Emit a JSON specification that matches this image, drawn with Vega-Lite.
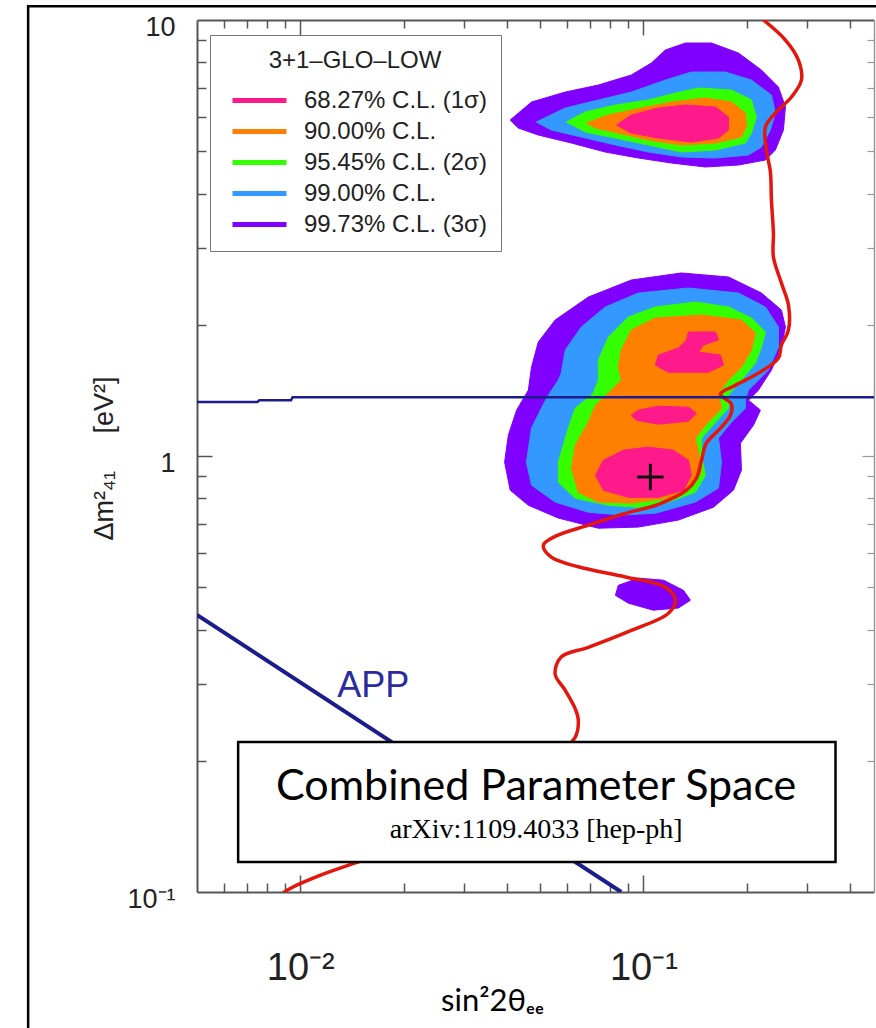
{
  "$schema": "https://vega.github.io/schema/vega-lite/v6.json",
  "width": 677,
  "height": 872,
  "autosize": "none",
  "padding": {"left": 197, "top": 20, "right": 2, "bottom": 136},
  "background": "white",
  "config": {"view": {"stroke": null}, "axis": {"grid": false}},
  "resolve": {"axis": {"x": "independent", "y": "independent"}},
  "datasets": {
    "contours": [
      {"cl":"99.73% C.L. (3σ)","p":"U","i":1,"x":0.0409,"y":5.897},
      {"cl":"99.73% C.L. (3σ)","p":"U","i":2,"x":0.0472,"y":6.485},
      {"cl":"99.73% C.L. (3σ)","p":"U","i":3,"x":0.0592,"y":6.835},
      {"cl":"99.73% C.L. (3σ)","p":"U","i":4,"x":0.0739,"y":7.093},
      {"cl":"99.73% C.L. (3σ)","p":"U","i":5,"x":0.0922,"y":7.478},
      {"cl":"99.73% C.L. (3σ)","p":"U","i":6,"x":0.1055,"y":7.968},
      {"cl":"99.73% C.L. (3σ)","p":"U","i":7,"x":0.1159,"y":8.535},
      {"cl":"99.73% C.L. (3σ)","p":"U","i":8,"x":0.1326,"y":8.856},
      {"cl":"99.73% C.L. (3σ)","p":"U","i":9,"x":0.1579,"y":8.856},
      {"cl":"99.73% C.L. (3σ)","p":"U","i":10,"x":0.1892,"y":8.401},
      {"cl":"99.73% C.L. (3σ)","p":"U","i":11,"x":0.2208,"y":7.678},
      {"cl":"99.73% C.L. (3σ)","p":"U","i":12,"x":0.2475,"y":7.018},
      {"cl":"99.73% C.L. (3σ)","p":"U","i":13,"x":0.2594,"y":6.316},
      {"cl":"99.73% C.L. (3σ)","p":"U","i":14,"x":0.2559,"y":5.593},
      {"cl":"99.73% C.L. (3σ)","p":"U","i":15,"x":0.2425,"y":5.032},
      {"cl":"99.73% C.L. (3σ)","p":"U","i":16,"x":0.2268,"y":4.773},
      {"cl":"99.73% C.L. (3σ)","p":"U","i":17,"x":0.1892,"y":4.649},
      {"cl":"99.73% C.L. (3σ)","p":"U","i":18,"x":0.1516,"y":4.601},
      {"cl":"99.73% C.L. (3σ)","p":"U","i":19,"x":0.1207,"y":4.698},
      {"cl":"99.73% C.L. (3σ)","p":"U","i":20,"x":0.0967,"y":4.824},
      {"cl":"99.73% C.L. (3σ)","p":"U","i":21,"x":0.0774,"y":4.979},
      {"cl":"99.73% C.L. (3σ)","p":"U","i":22,"x":0.0617,"y":5.222},
      {"cl":"99.73% C.L. (3σ)","p":"U","i":23,"x":0.0494,"y":5.447},
      {"cl":"99.73% C.L. (3σ)","p":"U","i":24,"x":0.0432,"y":5.652},
      {"cl":"99.73% C.L. (3σ)","p":"L","i":1,"x":0.1291,"y":2.629},
      {"cl":"99.73% C.L. (3σ)","p":"L","i":2,"x":0.1770,"y":2.574},
      {"cl":"99.73% C.L. (3σ)","p":"L","i":3,"x":0.2208,"y":2.365},
      {"cl":"99.73% C.L. (3σ)","p":"L","i":4,"x":0.2525,"y":2.162},
      {"cl":"99.73% C.L. (3σ)","p":"L","i":5,"x":0.2594,"y":1.976},
      {"cl":"99.73% C.L. (3σ)","p":"L","i":6,"x":0.2525,"y":1.778},
      {"cl":"99.73% C.L. (3σ)","p":"L","i":7,"x":0.2361,"y":1.574},
      {"cl":"99.73% C.L. (3σ)","p":"L","i":8,"x":0.2164,"y":1.416},
      {"cl":"99.73% C.L. (3σ)","p":"L","i":9,"x":0.2024,"y":1.343},
      {"cl":"99.73% C.L. (3σ)","p":"L","i":10,"x":0.2193,"y":1.274},
      {"cl":"99.73% C.L. (3σ)","p":"L","i":11,"x":0.2093,"y":1.177},
      {"cl":"99.73% C.L. (3σ)","p":"L","i":12,"x":0.1918,"y":1.070},
      {"cl":"99.73% C.L. (3σ)","p":"L","i":13,"x":0.1931,"y":0.928},
      {"cl":"99.73% C.L. (3σ)","p":"L","i":14,"x":0.1830,"y":0.835},
      {"cl":"99.73% C.L. (3σ)","p":"L","i":15,"x":0.1600,"y":0.763},
      {"cl":"99.73% C.L. (3σ)","p":"L","i":16,"x":0.1265,"y":0.713},
      {"cl":"99.73% C.L. (3σ)","p":"L","i":17,"x":0.0967,"y":0.687},
      {"cl":"99.73% C.L. (3σ)","p":"L","i":18,"x":0.0739,"y":0.683},
      {"cl":"99.73% C.L. (3σ)","p":"L","i":19,"x":0.0565,"y":0.7205},
      {"cl":"99.73% C.L. (3σ)","p":"L","i":20,"x":0.0462,"y":0.771},
      {"cl":"99.73% C.L. (3σ)","p":"L","i":21,"x":0.0409,"y":0.835},
      {"cl":"99.73% C.L. (3σ)","p":"L","i":22,"x":0.0394,"y":0.968},
      {"cl":"99.73% C.L. (3σ)","p":"L","i":23,"x":0.0404,"y":1.116},
      {"cl":"99.73% C.L. (3σ)","p":"L","i":24,"x":0.0427,"y":1.274},
      {"cl":"99.73% C.L. (3σ)","p":"L","i":25,"x":0.0462,"y":1.416},
      {"cl":"99.73% C.L. (3σ)","p":"L","i":26,"x":0.0472,"y":1.599},
      {"cl":"99.73% C.L. (3σ)","p":"L","i":27,"x":0.0494,"y":1.826},
      {"cl":"99.73% C.L. (3σ)","p":"L","i":28,"x":0.0553,"y":2.050},
      {"cl":"99.73% C.L. (3σ)","p":"L","i":29,"x":0.0691,"y":2.315},
      {"cl":"99.73% C.L. (3σ)","p":"L","i":30,"x":0.0922,"y":2.533},
      {"cl":"99.73% C.L. (3σ)","p":"S","i":1,"x":0.0845,"y":0.505},
      {"cl":"99.73% C.L. (3σ)","p":"S","i":2,"x":0.0967,"y":0.5246},
      {"cl":"99.73% C.L. (3σ)","p":"S","i":3,"x":0.1144,"y":0.519},
      {"cl":"99.73% C.L. (3σ)","p":"S","i":4,"x":0.1308,"y":0.492},
      {"cl":"99.73% C.L. (3σ)","p":"S","i":5,"x":0.1371,"y":0.467},
      {"cl":"99.73% C.L. (3σ)","p":"S","i":6,"x":0.1265,"y":0.448},
      {"cl":"99.73% C.L. (3σ)","p":"S","i":7,"x":0.1069,"y":0.443},
      {"cl":"99.73% C.L. (3σ)","p":"S","i":8,"x":0.0904,"y":0.4597},
      {"cl":"99.73% C.L. (3σ)","p":"S","i":9,"x":0.0829,"y":0.479},
      {"cl":"99.00% C.L.","p":"U","i":1,"x":0.0487,"y":5.835},
      {"cl":"99.00% C.L.","p":"U","i":2,"x":0.0592,"y":6.283},
      {"cl":"99.00% C.L.","p":"U","i":3,"x":0.0739,"y":6.554},
      {"cl":"99.00% C.L.","p":"U","i":4,"x":0.0922,"y":6.835},
      {"cl":"99.00% C.L.","p":"U","i":5,"x":0.1159,"y":7.283},
      {"cl":"99.00% C.L.","p":"U","i":6,"x":0.1380,"y":7.597},
      {"cl":"99.00% C.L.","p":"U","i":7,"x":0.1734,"y":7.597},
      {"cl":"99.00% C.L.","p":"U","i":8,"x":0.2065,"y":7.283},
      {"cl":"99.00% C.L.","p":"U","i":9,"x":0.2361,"y":6.730},
      {"cl":"99.00% C.L.","p":"U","i":10,"x":0.2425,"y":6.120},
      {"cl":"99.00% C.L.","p":"U","i":11,"x":0.2345,"y":5.593},
      {"cl":"99.00% C.L.","p":"U","i":12,"x":0.2208,"y":5.113},
      {"cl":"99.00% C.L.","p":"U","i":13,"x":0.2024,"y":4.901},
      {"cl":"99.00% C.L.","p":"U","i":14,"x":0.1622,"y":4.824},
      {"cl":"99.00% C.L.","p":"U","i":15,"x":0.1291,"y":4.850},
      {"cl":"99.00% C.L.","p":"U","i":16,"x":0.1034,"y":4.979},
      {"cl":"99.00% C.L.","p":"U","i":17,"x":0.0829,"y":5.167},
      {"cl":"99.00% C.L.","p":"U","i":18,"x":0.0659,"y":5.390},
      {"cl":"99.00% C.L.","p":"U","i":19,"x":0.0539,"y":5.593},
      {"cl":"99.00% C.L.","p":"L","i":1,"x":0.1353,"y":2.428},
      {"cl":"99.00% C.L.","p":"L","i":2,"x":0.1892,"y":2.365},
      {"cl":"99.00% C.L.","p":"L","i":3,"x":0.2268,"y":2.197},
      {"cl":"99.00% C.L.","p":"L","i":4,"x":0.2475,"y":1.976},
      {"cl":"99.00% C.L.","p":"L","i":5,"x":0.2475,"y":1.778},
      {"cl":"99.00% C.L.","p":"L","i":6,"x":0.2314,"y":1.574},
      {"cl":"99.00% C.L.","p":"L","i":7,"x":0.2024,"y":1.416},
      {"cl":"99.00% C.L.","p":"L","i":8,"x":0.1983,"y":1.343},
      {"cl":"99.00% C.L.","p":"L","i":9,"x":0.1983,"y":1.287},
      {"cl":"99.00% C.L.","p":"L","i":10,"x":0.1806,"y":1.195},
      {"cl":"99.00% C.L.","p":"L","i":11,"x":0.1655,"y":1.099},
      {"cl":"99.00% C.L.","p":"L","i":12,"x":0.1689,"y":0.968},
      {"cl":"99.00% C.L.","p":"L","i":13,"x":0.1655,"y":0.844},
      {"cl":"99.00% C.L.","p":"L","i":14,"x":0.1418,"y":0.784},
      {"cl":"99.00% C.L.","p":"L","i":15,"x":0.1083,"y":0.739},
      {"cl":"99.00% C.L.","p":"L","i":16,"x":0.0862,"y":0.732},
      {"cl":"99.00% C.L.","p":"L","i":17,"x":0.0691,"y":0.743},
      {"cl":"99.00% C.L.","p":"L","i":18,"x":0.0553,"y":0.784},
      {"cl":"99.00% C.L.","p":"L","i":19,"x":0.0472,"y":0.857},
      {"cl":"99.00% C.L.","p":"L","i":20,"x":0.0456,"y":0.968},
      {"cl":"99.00% C.L.","p":"L","i":21,"x":0.0472,"y":1.159},
      {"cl":"99.00% C.L.","p":"L","i":22,"x":0.0504,"y":1.287},
      {"cl":"99.00% C.L.","p":"L","i":23,"x":0.0528,"y":1.379},
      {"cl":"99.00% C.L.","p":"L","i":24,"x":0.0565,"y":1.493},
      {"cl":"99.00% C.L.","p":"L","i":25,"x":0.0576,"y":1.549},
      {"cl":"99.00% C.L.","p":"L","i":26,"x":0.0592,"y":1.750},
      {"cl":"99.00% C.L.","p":"L","i":27,"x":0.0659,"y":1.976},
      {"cl":"99.00% C.L.","p":"L","i":28,"x":0.0774,"y":2.197},
      {"cl":"99.00% C.L.","p":"L","i":29,"x":0.0967,"y":2.365},
      {"cl":"95.45% C.L. (2σ)","p":"U","i":1,"x":0.0596,"y":5.835},
      {"cl":"95.45% C.L. (2σ)","p":"U","i":2,"x":0.0677,"y":6.152},
      {"cl":"95.45% C.L. (2σ)","p":"U","i":3,"x":0.0829,"y":6.383},
      {"cl":"95.45% C.L. (2σ)","p":"U","i":4,"x":0.1034,"y":6.554},
      {"cl":"95.45% C.L. (2σ)","p":"U","i":5,"x":0.1240,"y":6.800},
      {"cl":"95.45% C.L. (2σ)","p":"U","i":6,"x":0.1447,"y":6.982},
      {"cl":"95.45% C.L. (2σ)","p":"U","i":7,"x":0.1806,"y":6.908},
      {"cl":"95.45% C.L. (2σ)","p":"U","i":8,"x":0.2065,"y":6.554},
      {"cl":"95.45% C.L. (2σ)","p":"U","i":9,"x":0.2135,"y":5.991},
      {"cl":"95.45% C.L. (2σ)","p":"U","i":10,"x":0.2065,"y":5.505},
      {"cl":"95.45% C.L. (2σ)","p":"U","i":11,"x":0.1983,"y":5.222},
      {"cl":"95.45% C.L. (2σ)","p":"U","i":12,"x":0.1622,"y":5.032},
      {"cl":"95.45% C.L. (2σ)","p":"U","i":13,"x":0.1291,"y":4.979},
      {"cl":"95.45% C.L. (2σ)","p":"U","i":14,"x":0.1034,"y":5.167},
      {"cl":"95.45% C.L. (2σ)","p":"U","i":15,"x":0.0829,"y":5.361},
      {"cl":"95.45% C.L. (2σ)","p":"U","i":16,"x":0.0677,"y":5.534},
      {"cl":"95.45% C.L. (2σ)","p":"L","i":1,"x":0.1418,"y":2.255},
      {"cl":"95.45% C.L. (2σ)","p":"L","i":2,"x":0.1770,"y":2.197},
      {"cl":"95.45% C.L. (2σ)","p":"L","i":3,"x":0.2065,"y":2.072},
      {"cl":"95.45% C.L. (2σ)","p":"L","i":4,"x":0.2268,"y":1.925},
      {"cl":"95.45% C.L. (2σ)","p":"L","i":5,"x":0.2208,"y":1.778},
      {"cl":"95.45% C.L. (2σ)","p":"L","i":6,"x":0.2121,"y":1.634},
      {"cl":"95.45% C.L. (2σ)","p":"L","i":7,"x":0.1931,"y":1.493},
      {"cl":"95.45% C.L. (2σ)","p":"L","i":8,"x":0.1770,"y":1.379},
      {"cl":"95.45% C.L. (2σ)","p":"L","i":9,"x":0.1770,"y":1.287},
      {"cl":"95.45% C.L. (2σ)","p":"L","i":10,"x":0.1622,"y":1.195},
      {"cl":"95.45% C.L. (2σ)","p":"L","i":11,"x":0.1477,"y":1.099},
      {"cl":"95.45% C.L. (2σ)","p":"L","i":12,"x":0.1477,"y":1.004},
      {"cl":"95.45% C.L. (2σ)","p":"L","i":13,"x":0.1516,"y":0.903},
      {"cl":"95.45% C.L. (2σ)","p":"L","i":14,"x":0.1418,"y":0.826},
      {"cl":"95.45% C.L. (2σ)","p":"L","i":15,"x":0.1183,"y":0.784},
      {"cl":"95.45% C.L. (2σ)","p":"L","i":16,"x":0.0967,"y":0.763},
      {"cl":"95.45% C.L. (2σ)","p":"L","i":17,"x":0.0791,"y":0.771},
      {"cl":"95.45% C.L. (2σ)","p":"L","i":18,"x":0.0633,"y":0.800},
      {"cl":"95.45% C.L. (2σ)","p":"L","i":19,"x":0.0565,"y":0.871},
      {"cl":"95.45% C.L. (2σ)","p":"L","i":20,"x":0.0565,"y":0.968},
      {"cl":"95.45% C.L. (2σ)","p":"L","i":21,"x":0.0604,"y":1.159},
      {"cl":"95.45% C.L. (2σ)","p":"L","i":22,"x":0.0633,"y":1.287},
      {"cl":"95.45% C.L. (2σ)","p":"L","i":23,"x":0.0715,"y":1.394},
      {"cl":"95.45% C.L. (2σ)","p":"L","i":24,"x":0.0739,"y":1.493},
      {"cl":"95.45% C.L. (2σ)","p":"L","i":25,"x":0.0739,"y":1.660},
      {"cl":"95.45% C.L. (2σ)","p":"L","i":26,"x":0.0791,"y":1.874},
      {"cl":"95.45% C.L. (2σ)","p":"L","i":27,"x":0.0904,"y":2.083},
      {"cl":"95.45% C.L. (2σ)","p":"L","i":28,"x":0.1083,"y":2.197},
      {"cl":"90.00% C.L.","p":"U","i":1,"x":0.0682,"y":5.804},
      {"cl":"90.00% C.L.","p":"U","i":2,"x":0.0791,"y":6.055},
      {"cl":"90.00% C.L.","p":"U","i":3,"x":0.0987,"y":6.283},
      {"cl":"90.00% C.L.","p":"U","i":4,"x":0.1207,"y":6.485},
      {"cl":"90.00% C.L.","p":"U","i":5,"x":0.1516,"y":6.624},
      {"cl":"90.00% C.L.","p":"U","i":6,"x":0.1806,"y":6.485},
      {"cl":"90.00% C.L.","p":"U","i":7,"x":0.1983,"y":6.120},
      {"cl":"90.00% C.L.","p":"U","i":8,"x":0.1997,"y":5.683},
      {"cl":"90.00% C.L.","p":"U","i":9,"x":0.1930,"y":5.390},
      {"cl":"90.00% C.L.","p":"U","i":10,"x":0.1622,"y":5.222},
      {"cl":"90.00% C.L.","p":"U","i":11,"x":0.1291,"y":5.167},
      {"cl":"90.00% C.L.","p":"U","i":12,"x":0.1034,"y":5.305},
      {"cl":"90.00% C.L.","p":"U","i":13,"x":0.0845,"y":5.505},
      {"cl":"90.00% C.L.","p":"U","i":14,"x":0.0725,"y":5.652},
      {"cl":"90.00% C.L.","p":"L","i":1,"x":0.1477,"y":2.105},
      {"cl":"90.00% C.L.","p":"L","i":2,"x":0.1931,"y":2.050},
      {"cl":"90.00% C.L.","p":"L","i":3,"x":0.2121,"y":1.914},
      {"cl":"90.00% C.L.","p":"L","i":4,"x":0.2065,"y":1.750},
      {"cl":"90.00% C.L.","p":"L","i":5,"x":0.1931,"y":1.599},
      {"cl":"90.00% C.L.","p":"L","i":6,"x":0.1770,"y":1.493},
      {"cl":"90.00% C.L.","p":"L","i":7,"x":0.1655,"y":1.394},
      {"cl":"90.00% C.L.","p":"L","i":8,"x":0.1689,"y":1.287},
      {"cl":"90.00% C.L.","p":"L","i":9,"x":0.1516,"y":1.177},
      {"cl":"90.00% C.L.","p":"L","i":10,"x":0.1418,"y":1.099},
      {"cl":"90.00% C.L.","p":"L","i":11,"x":0.1447,"y":1.020},
      {"cl":"90.00% C.L.","p":"L","i":12,"x":0.1477,"y":0.918},
      {"cl":"90.00% C.L.","p":"L","i":13,"x":0.1353,"y":0.844},
      {"cl":"90.00% C.L.","p":"L","i":14,"x":0.1183,"y":0.800},
      {"cl":"90.00% C.L.","p":"L","i":15,"x":0.0922,"y":0.780},
      {"cl":"90.00% C.L.","p":"L","i":16,"x":0.0739,"y":0.784},
      {"cl":"90.00% C.L.","p":"L","i":17,"x":0.0646,"y":0.826},
      {"cl":"90.00% C.L.","p":"L","i":18,"x":0.0617,"y":0.937},
      {"cl":"90.00% C.L.","p":"L","i":19,"x":0.0633,"y":1.059},
      {"cl":"90.00% C.L.","p":"L","i":20,"x":0.0691,"y":1.195},
      {"cl":"90.00% C.L.","p":"L","i":21,"x":0.0725,"y":1.308},
      {"cl":"90.00% C.L.","p":"L","i":22,"x":0.0791,"y":1.394},
      {"cl":"90.00% C.L.","p":"L","i":23,"x":0.0862,"y":1.493},
      {"cl":"90.00% C.L.","p":"L","i":24,"x":0.0845,"y":1.599},
      {"cl":"90.00% C.L.","p":"L","i":25,"x":0.0862,"y":1.750},
      {"cl":"90.00% C.L.","p":"L","i":26,"x":0.0922,"y":1.945},
      {"cl":"90.00% C.L.","p":"L","i":27,"x":0.1083,"y":2.072},
      {"cl":"68.27% C.L. (1σ)","p":"U","i":1,"x":0.0835,"y":5.743},
      {"cl":"68.27% C.L. (1σ)","p":"U","i":2,"x":0.0922,"y":6.055},
      {"cl":"68.27% C.L. (1σ)","p":"U","i":3,"x":0.1106,"y":6.283},
      {"cl":"68.27% C.L. (1σ)","p":"U","i":4,"x":0.1326,"y":6.383},
      {"cl":"68.27% C.L. (1σ)","p":"U","i":5,"x":0.1622,"y":6.316},
      {"cl":"68.27% C.L. (1σ)","p":"U","i":6,"x":0.1770,"y":5.991},
      {"cl":"68.27% C.L. (1σ)","p":"U","i":7,"x":0.1770,"y":5.593},
      {"cl":"68.27% C.L. (1σ)","p":"U","i":8,"x":0.1655,"y":5.361},
      {"cl":"68.27% C.L. (1σ)","p":"U","i":9,"x":0.1380,"y":5.249},
      {"cl":"68.27% C.L. (1σ)","p":"U","i":10,"x":0.1106,"y":5.361},
      {"cl":"68.27% C.L. (1σ)","p":"U","i":11,"x":0.0922,"y":5.505},
      {"cl":"68.27% C.L. (1σ)","p":"A","i":1,"x":0.1353,"y":1.925},
      {"cl":"68.27% C.L. (1σ)","p":"A","i":2,"x":0.1622,"y":1.925},
      {"cl":"68.27% C.L. (1σ)","p":"A","i":3,"x":0.1655,"y":1.845},
      {"cl":"68.27% C.L. (1σ)","p":"A","i":4,"x":0.1496,"y":1.797},
      {"cl":"68.27% C.L. (1σ)","p":"A","i":5,"x":0.1447,"y":1.732},
      {"cl":"68.27% C.L. (1σ)","p":"A","i":6,"x":0.1677,"y":1.704},
      {"cl":"68.27% C.L. (1σ)","p":"A","i":7,"x":0.1711,"y":1.616},
      {"cl":"68.27% C.L. (1σ)","p":"A","i":8,"x":0.1547,"y":1.557},
      {"cl":"68.27% C.L. (1σ)","p":"A","i":9,"x":0.1183,"y":1.557},
      {"cl":"68.27% C.L. (1σ)","p":"A","i":10,"x":0.1083,"y":1.616},
      {"cl":"68.27% C.L. (1σ)","p":"A","i":11,"x":0.1106,"y":1.704},
      {"cl":"68.27% C.L. (1σ)","p":"A","i":12,"x":0.1265,"y":1.769},
      {"cl":"68.27% C.L. (1σ)","p":"A","i":13,"x":0.1335,"y":1.845},
      {"cl":"68.27% C.L. (1σ)","p":"B","i":1,"x":0.0967,"y":1.274},
      {"cl":"68.27% C.L. (1σ)","p":"B","i":2,"x":0.1106,"y":1.301},
      {"cl":"68.27% C.L. (1σ)","p":"B","i":3,"x":0.1353,"y":1.294},
      {"cl":"68.27% C.L. (1σ)","p":"B","i":4,"x":0.1427,"y":1.254},
      {"cl":"68.27% C.L. (1σ)","p":"B","i":5,"x":0.1353,"y":1.202},
      {"cl":"68.27% C.L. (1σ)","p":"B","i":6,"x":0.1106,"y":1.183},
      {"cl":"68.27% C.L. (1σ)","p":"B","i":7,"x":0.0954,"y":1.208},
      {"cl":"68.27% C.L. (1σ)","p":"B","i":8,"x":0.0922,"y":1.241},
      {"cl":"68.27% C.L. (1σ)","p":"C","i":1,"x":0.1034,"y":1.048},
      {"cl":"68.27% C.L. (1σ)","p":"C","i":2,"x":0.1223,"y":1.031},
      {"cl":"68.27% C.L. (1σ)","p":"C","i":3,"x":0.1353,"y":0.978},
      {"cl":"68.27% C.L. (1σ)","p":"C","i":4,"x":0.1380,"y":0.903},
      {"cl":"68.27% C.L. (1σ)","p":"C","i":5,"x":0.1308,"y":0.835},
      {"cl":"68.27% C.L. (1σ)","p":"C","i":6,"x":0.1106,"y":0.804},
      {"cl":"68.27% C.L. (1σ)","p":"C","i":7,"x":0.0904,"y":0.804},
      {"cl":"68.27% C.L. (1σ)","p":"C","i":8,"x":0.0764,"y":0.835},
      {"cl":"68.27% C.L. (1σ)","p":"C","i":9,"x":0.0725,"y":0.903},
      {"cl":"68.27% C.L. (1σ)","p":"C","i":10,"x":0.0764,"y":0.978},
      {"cl":"68.27% C.L. (1σ)","p":"C","i":11,"x":0.0874,"y":1.031}
    ],
    "red": [
      {"i":1,"x":0.2238,"y":10},{"i":2,"x":0.2594,"y":8.995},{"i":3,"x":0.2830,"y":8.095},{"i":4,"x":0.2888,"y":7.283},
      {"i":5,"x":0.2701,"y":6.659},{"i":6,"x":0.2425,"y":6.120},{"i":7,"x":0.2268,"y":5.683},{"i":8,"x":0.2283,"y":5.032},
      {"i":9,"x":0.2345,"y":4.481},{"i":10,"x":0.2361,"y":3.866},{"i":11,"x":0.2393,"y":3.247},{"i":12,"x":0.2393,"y":2.860},
      {"i":13,"x":0.2525,"y":2.493},{"i":14,"x":0.2647,"y":2.220},{"i":15,"x":0.2647,"y":1.945},{"i":16,"x":0.2525,"y":1.797},
      {"i":17,"x":0.2475,"y":1.677},{"i":18,"x":0.2164,"y":1.549},{"i":19,"x":0.1830,"y":1.446},{"i":20,"x":0.1677,"y":1.386},
      {"i":21,"x":0.1806,"y":1.315},{"i":22,"x":0.1794,"y":1.241},{"i":23,"x":0.1677,"y":1.158},{"i":24,"x":0.1526,"y":1.070},
      {"i":25,"x":0.1477,"y":0.978},{"i":26,"x":0.1427,"y":0.889},{"i":27,"x":0.1335,"y":0.835},{"i":28,"x":0.1106,"y":0.775},
      {"i":29,"x":0.0874,"y":0.736},{"i":30,"x":0.0691,"y":0.694},{"i":31,"x":0.0553,"y":0.654},{"i":32,"x":0.0511,"y":0.624},
      {"i":33,"x":0.0539,"y":0.586},{"i":34,"x":0.0646,"y":0.557},{"i":35,"x":0.0886,"y":0.528},{"i":36,"x":0.1159,"y":0.500},
      {"i":37,"x":0.1240,"y":0.467},{"i":38,"x":0.1183,"y":0.436},{"i":39,"x":0.0922,"y":0.398},{"i":40,"x":0.0691,"y":0.364},
      {"i":41,"x":0.0576,"y":0.346},{"i":42,"x":0.0553,"y":0.316},{"i":43,"x":0.0592,"y":0.290},{"i":44,"x":0.0633,"y":0.263},
      {"i":45,"x":0.0646,"y":0.248},{"i":46,"x":0.0633,"y":0.2267},{"i":47,"x":0.0494,"y":0.1905},{"i":48,"x":0.0309,"y":0.1463},
      {"i":49,"x":0.02065,"y":0.1282},{"i":50,"x":0.01476,"y":0.1172},{"i":51,"x":0.01151,"y":0.1094},{"i":52,"x":0.00923,"y":0.1013},
      {"i":53,"x":0.00863,"y":0.0974}
    ],
    "hline": [
      {"i":1,"x":0.005,"y":1.33},{"i":2,"x":0.0075,"y":1.33},{"i":3,"x":0.0076,"y":1.343},
      {"i":4,"x":0.0094,"y":1.343},{"i":5,"x":0.0095,"y":1.364},{"i":6,"x":0.47,"y":1.364}
    ],
    "app": [{"i":1,"x":0.005,"y":0.432},{"i":2,"x":0.0862,"y":0.1}]
  },
  "layer": [
    {
      "data": {"values": [{"x": 0.00161, "x2": 0.6, "y": 10.76, "y2": 0.0458}]},
      "mark": {"type": "rect", "filled": false, "stroke": "black", "strokeWidth": 2.5, "clip": false},
      "encoding": {
        "x": {"field": "x", "type": "quantitative", "scale": {"type": "log", "domain": [0.005, 0.47], "nice": false}, "axis": null},
        "x2": {"field": "x2"},
        "y": {"field": "y", "type": "quantitative", "scale": {"type": "log", "domain": [0.1, 10], "nice": false}, "axis": null},
        "y2": {"field": "y2"}
      }
    },
    {
      "data": {"name": "contours"},
      "transform": [{"filter": {"field": "cl", "equal": "99.73% C.L. (3σ)"}}],
      "mark": {"type": "line", "fill": "#7f00ff", "interpolate": "linear-closed", "strokeWidth": 1, "clip": true},
      "encoding": {
        "x": {"field": "x", "type": "quantitative", "scale": {"type": "log", "domain": [0.005, 0.47], "nice": false},
          "axis": {"orient": "bottom", "values": [0.01, 0.1], "labelExpr": "datum.value < 0.05 ? '10⁻²' : '10⁻¹'", "ticks": false, "domain": true, "domainColor": "#555", "domainWidth": 2, "labelFont": "Liberation Sans", "labelFontSize": 38, "labelColor": "#222", "labelPadding": 57, "labelBaseline": "top", "labelFlush": false, "labelOverlap": false,
            "title": "sin²2θₑₑ", "titleFont": "Lato", "titleFontSize": 31, "titleFontWeight": "normal", "titleColor": "black", "titleX": 295, "titleY": 118, "titleAlign": "center", "titleBaseline": "alphabetic"}},
        "y": {"field": "y", "type": "quantitative", "scale": {"type": "log", "domain": [0.1, 10], "nice": false},
          "axis": {"orient": "left", "values": [0.1, 1, 10], "labelExpr": "datum.value < 0.5 ? '10⁻¹' : (datum.value < 5 ? '1' : '10')", "ticks": false, "domain": true, "domainColor": "#555", "domainWidth": 2, "labelFont": "Liberation Sans", "labelFontSize": 27, "labelColor": "#222", "labelPadding": 22, "labelOffset": 7, "labelBaseline": "middle", "labelFlush": false, "labelOverlap": false,
            "title": "Δm²₄₁\u00a0\u00a0\u00a0\u00a0\u00a0[eV²]", "titleFont": "Liberation Sans", "titleFontSize": 27, "titleFontWeight": "normal", "titleColor": "#222", "titleX": -85, "titleY": 438, "titleAngle": -90, "titleAlign": "center", "titleBaseline": "alphabetic"}},
        "color": {"field": "cl", "type": "nominal",
          "scale": {"domain": ["68.27% C.L. (1σ)", "90.00% C.L.", "95.45% C.L. (2σ)", "99.00% C.L.", "99.73% C.L. (3σ)"], "range": ["#ff1a8c", "#ff8000", "#33ff00", "#3399ff", "#7f00ff"]},
          "legend": {"title": "3+1–GLO–LOW", "orient": "none", "legendX": 13, "legendY": 15, "direction": "vertical", "symbolType": "M-1.8,0L1.8,0", "symbolSize": 900, "symbolStrokeWidth": 5, "symbolOffset": 18, "labelFontSize": 24, "labelFont": "Liberation Sans", "labelColor": "#222", "labelLimit": 400, "labelOffset": 27, "titleFontSize": 24, "titleFont": "Liberation Sans", "titleFontWeight": "normal", "titleColor": "#222", "titleAnchor": "middle", "titlePadding": 10, "rowPadding": 1, "padding": 14, "strokeColor": "#777", "fillColor": "white"}},
        "detail": {"field": "p"},
        "order": {"field": "i", "type": "quantitative"}
      }
    },
    {
      "data": {"name": "contours"},
      "transform": [{"filter": {"field": "cl", "equal": "99.00% C.L."}}],
      "mark": {"type": "line", "fill": "#3399ff", "interpolate": "linear-closed", "strokeWidth": 1, "clip": true},
      "encoding": {
        "x": {"field": "x", "type": "quantitative", "scale": {"type": "log", "domain": [0.005, 0.47], "nice": false},
          "axis": {"orient": "bottom", "values": [0.006, 0.007, 0.008, 0.009, 0.02, 0.03, 0.04, 0.05, 0.06, 0.07, 0.08, 0.09, 0.2, 0.3, 0.4], "labels": false, "domain": false, "ticks": true, "tickSize": -9, "tickColor": "#555", "tickWidth": 1.5, "title": null}},
        "y": {"field": "y", "type": "quantitative", "scale": {"type": "log", "domain": [0.1, 10], "nice": false},
          "axis": {"orient": "left", "values": [0.2, 0.3, 0.4, 0.5, 0.6, 0.7, 0.8, 0.9, 2, 3, 4, 5, 6, 7, 8, 9], "labels": false, "domain": false, "ticks": true, "tickSize": -9, "tickColor": "#555", "tickWidth": 1.5, "title": null}},
        "color": {"field": "cl", "type": "nominal"},
        "detail": {"field": "p"},
        "order": {"field": "i", "type": "quantitative"}
      }
    },
    {
      "data": {"name": "contours"},
      "transform": [{"filter": {"field": "cl", "equal": "95.45% C.L. (2σ)"}}],
      "mark": {"type": "line", "fill": "#33ff00", "interpolate": "linear-closed", "strokeWidth": 1, "clip": true},
      "encoding": {
        "x": {"field": "x", "type": "quantitative", "scale": {"type": "log", "domain": [0.005, 0.47], "nice": false},
          "axis": {"orient": "bottom", "values": [0.01, 0.1], "labels": false, "domain": false, "ticks": true, "tickSize": -17, "tickColor": "#555", "tickWidth": 1.5, "title": null}},
        "y": {"field": "y", "type": "quantitative", "scale": {"type": "log", "domain": [0.1, 10], "nice": false},
          "axis": {"orient": "left", "values": [1], "labels": false, "domain": false, "ticks": true, "tickSize": -15, "tickColor": "#555", "tickWidth": 1.5, "title": null}},
        "color": {"field": "cl", "type": "nominal"},
        "detail": {"field": "p"},
        "order": {"field": "i", "type": "quantitative"}
      }
    },
    {
      "data": {"name": "contours"},
      "transform": [{"filter": {"field": "cl", "equal": "90.00% C.L."}}],
      "mark": {"type": "line", "fill": "#ff8000", "interpolate": "linear-closed", "strokeWidth": 1, "clip": true},
      "encoding": {
        "x": {"field": "x", "type": "quantitative", "scale": {"type": "log", "domain": [0.005, 0.47], "nice": false},
          "axis": {"orient": "top", "values": [0.006, 0.007, 0.008, 0.009, 0.02, 0.03, 0.04, 0.05, 0.06, 0.07, 0.08, 0.09, 0.2, 0.3, 0.4], "labels": false, "domain": true, "domainColor": "#555", "domainWidth": 2, "ticks": true, "tickSize": -8, "tickColor": "#555", "tickWidth": 1.5, "title": null}},
        "y": {"field": "y", "type": "quantitative", "scale": {"type": "log", "domain": [0.1, 10], "nice": false},
          "axis": {"orient": "right", "values": [0.2, 0.3, 0.4, 0.5, 0.6, 0.7, 0.8, 0.9, 2, 3, 4, 5, 6, 7, 8, 9], "labels": false, "domain": true, "domainColor": "#999", "domainWidth": 1.5, "ticks": true, "tickSize": -7, "tickColor": "#999", "tickWidth": 1.2, "title": null}},
        "color": {"field": "cl", "type": "nominal"},
        "detail": {"field": "p"},
        "order": {"field": "i", "type": "quantitative"}
      }
    },
    {
      "data": {"name": "contours"},
      "transform": [{"filter": {"field": "cl", "equal": "68.27% C.L. (1σ)"}}],
      "mark": {"type": "line", "fill": "#ff1a8c", "interpolate": "linear-closed", "strokeWidth": 1, "clip": true},
      "encoding": {
        "x": {"field": "x", "type": "quantitative", "scale": {"type": "log", "domain": [0.005, 0.47], "nice": false},
          "axis": {"orient": "top", "values": [0.01, 0.1], "labels": false, "domain": false, "ticks": true, "tickSize": -15, "tickColor": "#555", "tickWidth": 1.5, "title": null}},
        "y": {"field": "y", "type": "quantitative", "scale": {"type": "log", "domain": [0.1, 10], "nice": false},
          "axis": {"orient": "right", "values": [1], "labels": false, "domain": false, "ticks": true, "tickSize": -12, "tickColor": "#999", "tickWidth": 1.2, "title": null}},
        "color": {"field": "cl", "type": "nominal"},
        "detail": {"field": "p"},
        "order": {"field": "i", "type": "quantitative"}
      }
    },
    {
      "data": {"name": "red"},
      "mark": {"type": "line", "color": "#e3170d", "strokeWidth": 3.5, "interpolate": "catmull-rom", "clip": true},
      "encoding": {
        "x": {"field": "x", "type": "quantitative", "scale": {"type": "log", "domain": [0.005, 0.47], "nice": false}, "axis": null},
        "y": {"field": "y", "type": "quantitative", "scale": {"type": "log", "domain": [0.1, 10], "nice": false}, "axis": null},
        "order": {"field": "i", "type": "quantitative"}
      }
    },
    {
      "data": {"name": "hline"},
      "mark": {"type": "line", "color": "#1c1c8c", "strokeWidth": 2.5, "clip": true},
      "encoding": {
        "x": {"field": "x", "type": "quantitative", "scale": {"type": "log", "domain": [0.005, 0.47], "nice": false}, "axis": null},
        "y": {"field": "y", "type": "quantitative", "scale": {"type": "log", "domain": [0.1, 10], "nice": false}, "axis": null},
        "order": {"field": "i", "type": "quantitative"}
      }
    },
    {
      "data": {"name": "app"},
      "mark": {"type": "line", "color": "#1c1c8c", "strokeWidth": 4, "clip": true},
      "encoding": {
        "x": {"field": "x", "type": "quantitative", "scale": {"type": "log", "domain": [0.005, 0.47], "nice": false}, "axis": null},
        "y": {"field": "y", "type": "quantitative", "scale": {"type": "log", "domain": [0.1, 10], "nice": false}, "axis": null},
        "order": {"field": "i", "type": "quantitative"}
      }
    },
    {
      "data": {"values": [{"label": "APP", "x": 0.01632, "y": 0.28}]},
      "mark": {"type": "text", "font": "Liberation Sans", "fontSize": 36, "color": "#2b2b9e", "align": "center", "baseline": "alphabetic"},
      "encoding": {
        "x": {"field": "x", "type": "quantitative", "scale": {"type": "log", "domain": [0.005, 0.47], "nice": false}, "axis": null},
        "y": {"field": "y", "type": "quantitative", "scale": {"type": "log", "domain": [0.1, 10], "nice": false}, "axis": null},
        "text": {"field": "label"}
      }
    },
    {
      "data": {"values": [{"x": 0.1048, "y": 0.895}]},
      "mark": {"type": "point", "shape": "M-1,0L1,0M0,-1L0,1", "size": 700, "filled": false, "stroke": "#111", "strokeWidth": 3, "opacity": 1},
      "encoding": {
        "x": {"field": "x", "type": "quantitative", "scale": {"type": "log", "domain": [0.005, 0.47], "nice": false}, "axis": null},
        "y": {"field": "y", "type": "quantitative", "scale": {"type": "log", "domain": [0.1, 10], "nice": false}, "axis": null}
      }
    },
    {
      "data": {"values": [{"x": 0.00659, "x2": 0.363, "y": 0.2208, "y2": 0.1172}]},
      "mark": {"type": "rect", "fill": "white", "stroke": "black", "strokeWidth": 2.5, "clip": false},
      "encoding": {
        "x": {"field": "x", "type": "quantitative", "scale": {"type": "log", "domain": [0.005, 0.47], "nice": false}, "axis": null},
        "x2": {"field": "x2"},
        "y": {"field": "y", "type": "quantitative", "scale": {"type": "log", "domain": [0.1, 10], "nice": false}, "axis": null},
        "y2": {"field": "y2"}
      }
    },
    {
      "data": {"values": [{"label": "Combined Parameter Space", "x": 0.0487, "y": 0.1626}]},
      "mark": {"type": "text", "font": "Lato", "fontSize": 43, "color": "black", "align": "center", "baseline": "alphabetic"},
      "encoding": {
        "x": {"field": "x", "type": "quantitative", "scale": {"type": "log", "domain": [0.005, 0.47], "nice": false}, "axis": null},
        "y": {"field": "y", "type": "quantitative", "scale": {"type": "log", "domain": [0.1, 10], "nice": false}, "axis": null},
        "text": {"field": "label"}
      }
    },
    {
      "data": {"values": [{"label": "arXiv:1109.4033 [hep-ph]", "x": 0.0487, "y": 0.133}]},
      "mark": {"type": "text", "font": "Liberation Serif", "fontSize": 28, "color": "black", "align": "center", "baseline": "alphabetic"},
      "encoding": {
        "x": {"field": "x", "type": "quantitative", "scale": {"type": "log", "domain": [0.005, 0.47], "nice": false}, "axis": null},
        "y": {"field": "y", "type": "quantitative", "scale": {"type": "log", "domain": [0.1, 10], "nice": false}, "axis": null},
        "text": {"field": "label"}
      }
    }
  ]
}
